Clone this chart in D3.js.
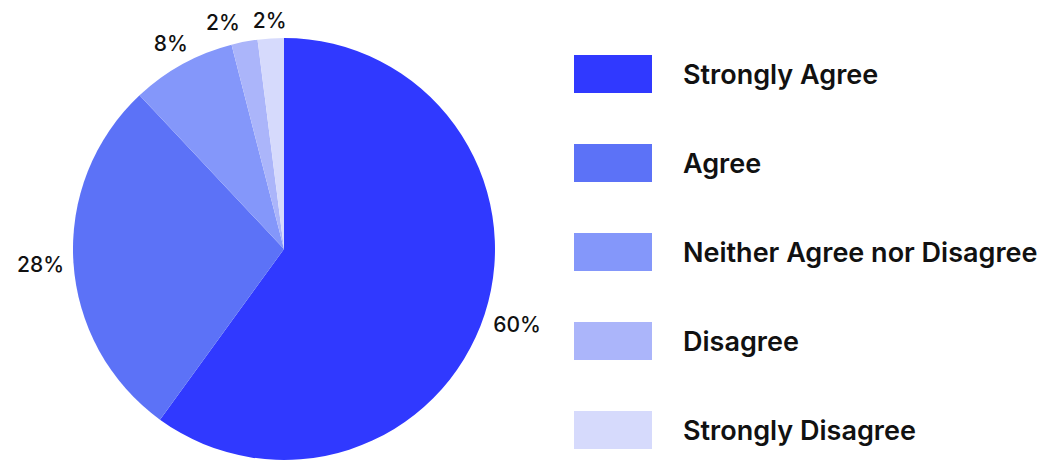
<!DOCTYPE html>
<html>
<head>
<meta charset="utf-8">
<script src="https://cdn.jsdelivr.net/npm/d3@7"></script>
<style>
  html, body { margin: 0; padding: 0; background: #fff; }
  svg { display: block; font-family: Inter, "Noto Sans", sans-serif; }
</style>
</head>
<body>
<div class="chart"></div>
<script>
// survey answers, clockwise from 12 o'clock
const categories = ["Strongly Agree", "Agree", "Neither Agree nor Disagree", "Disagree", "Strongly Disagree"];
const values = [60, 28, 8, 2, 2];
const colors = ["#3039ff", "#5c72f7", "#8497fa", "#abb5fa", "#d6dafc"];

const width = 1048, height = 461;
const cx = 284, cy = 249, radius = 211;

const svg = d3.select(".chart")
  .append("svg")
  .attr("width", width)
  .attr("height", height);

const data = categories.map((c, i) => ({ cat: c, value: values[i], color: colors[i] }));

const pie = d3.pie().value(d => d.value).sort(null);
const arc = d3.arc().innerRadius(0).outerRadius(radius);
const arcs = pie(data);

const g = svg.append("g").attr("transform", `translate(${cx},${cy})`);

g.selectAll(".slice")
  .data(arcs)
  .enter().append("path")
  .attr("class", "slice")
  .attr("d", arc)
  .attr("fill", d => d.data.color);

// labels outside the pie, pushed out by their own box
const pad = 9, gap = 13;
const labels = g.selectAll(".lbl")
  .data(arcs)
  .enter().append("text")
  .attr("class", "lbl")
  .attr("font-size", 21)
  .attr("font-weight", 500)
  .attr("fill", "#111")
  .attr("text-anchor", "middle")
  .attr("dominant-baseline", "central")
  .text(d => d.data.value + "%")
  .each(function(d) {
    const a = (d.startAngle + d.endAngle) / 2;
    const bb = this.getBBox();
    const sx = Math.sin(a), sy = -Math.cos(a);
    const r = radius + pad + bb.width / 2 * Math.abs(sx) + 7.5 * Math.abs(sy);
    d.lx = sx * r; d.ly = sy * r; d.w = bb.width;
  });

// spread the crowded labels near the top so they don't overlap
const topLabels = arcs.filter(d => d.ly < -radius * 0.8).sort((a, b) => b.lx - a.lx);
for (let i = 1; i < topLabels.length; i++) {
  const prev = topLabels[i - 1], cur = topLabels[i];
  const maxX = prev.lx - prev.w / 2 - gap - cur.w / 2;
  if (cur.lx > maxX) cur.lx = maxX;
}
labels.attr("x", d => d.lx).attr("y", d => d.ly);

// legend
const ly = d3.scalePoint().domain(categories).range([74, 430]);
const legend = svg.append("g");

legend.selectAll("rect")
  .data(data)
  .enter().append("rect")
  .attr("x", 574)
  .attr("y", d => ly(d.cat) - 19)
  .attr("width", 78)
  .attr("height", 38)
  .attr("fill", d => d.color);

legend.selectAll("text")
  .data(data)
  .enter().append("text")
  .attr("x", 683)
  .attr("y", d => ly(d.cat) + 10)
  .attr("font-size", 27)
  .attr("font-weight", 600)
  .attr("fill", "#111")
  .text(d => d.cat);
</script>
</body>
</html>
